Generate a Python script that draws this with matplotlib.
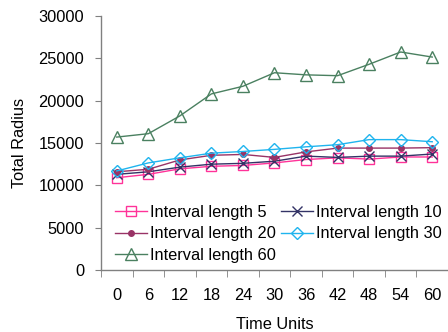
import numpy as np
import matplotlib.pyplot as plt

plt.rcParams['font.family'] = ['Liberation Sans', 'DejaVu Sans']

# ── Data ──────────────────────────────────────────
time_units = ["0", "6", "12", "18", "24", "30", "36", "42", "48", "54", "60"]

len5 = [10900, 11300, 11950, 12250, 12350, 12650, 13050, 13250, 13100, 13350, 13350]
len10 = [11300, 11600, 12150, 12500, 12600, 12850, 13450, 13300, 13450, 13450, 13700]
len20 = [11600, 11900, 13000, 13550, 13650, 13300, 13950, 14400, 14400, 14400, 14450]
len30 = [11700, 12650, 13250, 13800, 14000, 14250, 14550, 14800, 15400, 15400, 15150]
len60 = [15700, 16100, 18200, 20800, 21700, 23300, 23050, 22950, 24300, 25750, 25150]

series = [
    ("Interval length 5", len5, "#FF3399", "s", 7, "none"),
    ("Interval length 10", len10, "#333366", "x", 7, None),
    ("Interval length 20", len20, "#993366", "o", 4, None),
    ("Interval length 30", len30, "#1FB4EE", "D", 6, "none"),
    ("Interval length 60", len60, "#4A8060", "^", 8, "none"),
]

FS = 11.8

fig = plt.figure(figsize=(4.48, 3.32), dpi=100)
ax = fig.add_axes([0.2254, 0.1867, 0.7746, 0.7651])

x = np.arange(len(time_units))
lines = []
for label, vals, color, marker, ms, mfc in series:
    kw = dict(color=color, marker=marker, markersize=ms, linewidth=1.0,
              markeredgewidth=1.0, label=label)
    if mfc is not None:
        kw["markerfacecolor"] = mfc
    lines.append(ax.plot(x, vals, **kw)[0])

ax.set_xlim(-0.5, len(time_units) - 0.5)
ax.set_ylim(0, 30000)
ax.set_yticks(np.arange(0, 30001, 5000))

# category axis: labels centred, tick marks on the boundaries
ax.set_xticks(x)
ax.set_xticklabels(time_units)
ax.set_xticks(np.arange(-0.5, len(time_units), 1.0), minor=True)
ax.tick_params(axis="x", which="major", length=0, pad=13, labelsize=FS)
ax.tick_params(axis="x", which="minor", length=5, direction="out", color="#808080")
ax.tick_params(axis="y", length=4, direction="out", color="#808080", labelsize=FS, pad=8)

for side in ("top", "right"):
    ax.spines[side].set_visible(False)
for side in ("left", "bottom"):
    ax.spines[side].set_color("#808080")
    ax.spines[side].set_linewidth(1.0)

ax.set_xlabel("Time Units", fontsize=FS, labelpad=10)
ax.set_ylabel("Total Radius", fontsize=FS, labelpad=8)

# legend filled row-wise: 5, 10 / 20, 30 / 60
order = [0, 2, 4, 1, 3]
ax.legend([lines[i] for i in order], [series[i][0] for i in order],
          loc="lower left", bbox_to_anchor=(0.02, 0.0), ncol=2, frameon=False,
          fontsize=FS, handlelength=1.95, handletextpad=0.2, columnspacing=0.3,
          labelspacing=0.4, borderaxespad=0.44, borderpad=0.0)

plt.savefig("out.png", dpi=100)
